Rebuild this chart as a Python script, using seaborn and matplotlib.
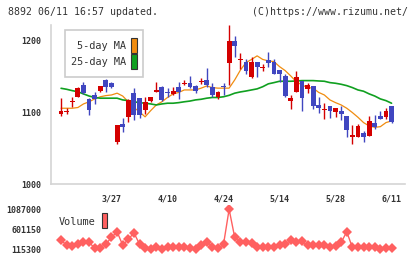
import numpy as np
import pandas as pd
import matplotlib
matplotlib.use("Agg")
import matplotlib.pyplot as plt
from matplotlib.patches import Rectangle
import seaborn as sns

# daily candles (60 trading days)
opens = [1098, 1100.5, 1114, 1122, 1138.5, 1119, 1125, 1130.5, 1145.5, 1141.7,
         1059.4, 1084, 1094, 1127, 1120, 1103.6, 1116, 1129, 1136, 1128,
         1126, 1135, 1139.5, 1141.7, 1137.5, 1142, 1145.5, 1136, 1122, 1136.5,
         1168.7, 1199.8, 1173.5, 1171, 1150, 1171, 1162, 1173, 1170, 1159.4,
         1151, 1116.6, 1129, 1144, 1132.4, 1137, 1110.5, 1104, 1109, 1101.3,
         1102, 1095, 1066.4, 1066.4, 1071, 1067.8, 1085, 1095.3, 1094.3, 1109]
closes = [1102, 1101.5, 1116.6, 1134.7, 1127, 1103, 1119, 1137, 1136, 1136,
          1082.7, 1080, 1117.6, 1096, 1096, 1115, 1121, 1131.5, 1117, 1127.5,
          1130.5, 1128, 1141.7, 1135, 1130.5, 1143.5, 1138.5, 1124.5, 1129, 1135.5,
          1199.8, 1193.3, 1174.5, 1158.5, 1171, 1164, 1163.5, 1169.6, 1154, 1153.8,
          1123, 1120.8, 1150, 1120.8, 1138.5, 1109, 1106, 1105, 1102.7, 1106,
          1098, 1075.7, 1068.7, 1081.3, 1065.4, 1088.3, 1080.3, 1090.6, 1102.2, 1087]
highs = [1120, 1106, 1121.8, 1136, 1142.7, 1120, 1128, 1137.5, 1147, 1143,
         1083, 1092, 1119, 1134, 1120, 1121, 1122, 1143, 1137, 1134,
         1135, 1143, 1145, 1151, 1138, 1148.7, 1161.8, 1141.7, 1130, 1141.7,
         1222, 1206, 1182.7, 1174, 1178, 1171, 1167.8, 1185, 1174, 1159.4,
         1153.8, 1124.5, 1158, 1144, 1141.7, 1137, 1121, 1113, 1109, 1106,
         1109, 1095, 1082.7, 1084, 1074.3, 1095, 1096.7, 1102.7, 1106, 1109.5]
lows = [1095.7, 1098, 1107.8, 1121.3, 1125.9, 1097, 1112, 1128, 1128, 1134,
        1056, 1073.4, 1087.3, 1089.7, 1092, 1098, 1114, 1129, 1116, 1121,
        1124.6, 1119, 1138, 1134, 1127, 1139.5, 1136, 1121, 1119, 1124.5,
        1138.5, 1178, 1160.3, 1153.8, 1147.8, 1150, 1158.5, 1164, 1153.8, 1143,
        1122, 1105, 1129, 1102.7, 1127.8, 1105, 1099, 1091.5, 1093, 1094,
        1089.7, 1066.4, 1056.2, 1065.4, 1059.4, 1067.8, 1076.6, 1090.6, 1090.6, 1086]

ma5 = [1106, 1106, 1106, 1107, 1112, 1115, 1119, 1122, 1123.6, 1124.5,
       1127, 1123, 1115, 1107, 1101, 1094, 1102.7, 1110.6, 1115, 1121,
       1126, 1128, 1131.5, 1131.5, 1131.5, 1134, 1137, 1134.8, 1134, 1134,
       1134, 1145.5, 1159, 1169.6, 1174, 1179, 1174, 1172, 1171, 1164,
       1158.5, 1151, 1143, 1138.5, 1134.8, 1134, 1128, 1124.5, 1117.6, 1113.8,
       1110.6, 1106, 1100, 1093.4, 1086, 1081.3, 1079.4, 1080.3, 1086, 1088.3]
ma25 = [1133.8, 1132.4, 1130.5, 1129, 1126, 1123, 1121, 1120, 1120, 1120,
        1120, 1117.6, 1116.6, 1115, 1113.8, 1113, 1112, 1110.6, 1112, 1113,
        1113, 1113.8, 1115, 1116, 1117.6, 1118.5, 1120, 1121, 1121, 1122,
        1124, 1127, 1128.7, 1130, 1131.5, 1133, 1136, 1140, 1141.7, 1143.6,
        1143.6, 1143.6, 1144, 1144.5, 1144.5, 1144.5, 1144, 1143.6, 1141.7, 1140.8,
        1139.4, 1137.5, 1134.8, 1131.5, 1129.7, 1126, 1123, 1119, 1116.6, 1113]

volume = [326000, 212000, 188000, 237000, 277000, 277000, 140000, 148000, 237000, 400000,
          536000, 212000, 350000, 512000, 237000, 131000, 115300, 172000, 115300, 156000,
          172000, 172000, 156000, 140000, 115300, 212000, 277000, 156000, 131000, 229000,
          1087000, 399000, 277000, 277000, 253000, 156000, 156000, 172000, 156000, 212000,
          229000, 334000, 277000, 302000, 212000, 212000, 212000, 212000, 172000, 196000,
          277000, 536000, 156000, 156000, 156000, 156000, 156000, 115300, 140000, 140000]

date_pos = [9, 19, 29, 39, 49, 59]
date_labels = ["3/27", "4/10", "4/24", "5/14", "5/28", "6/11"]
price_ticks = [1000, 1100, 1200]
vol_ticks = [115300, 601150, 1087000]

df = pd.DataFrame({"day": np.arange(len(opens)), "open": opens, "close": closes,
                   "high": highs, "low": lows, "ma5": ma5, "ma25": ma25, "volume": volume})

sns.set_theme(style="white")
mono = ["DejaVu Sans Mono", "DejaVu Sans"]
plt.rcParams["font.family"] = mono

RED = "#d40000"
BLUE = "#4046c0"
GRID = "#d4d4d4"
TXT = "#333333"

W, H = 420, 259
fig = plt.figure(figsize=(W / 100, H / 100), dpi=100)
left, right = 51 / W, 405 / W
ax = fig.add_axes([left, (H - 184.3) / H, right - left, (184.3 - 25) / H])
axv = fig.add_axes([left, (H - 253) / H, right - left, 48 / H])

# candles
up = df["close"] >= df["open"]
colors = np.where(up, RED, BLUE)
ax.vlines(df["day"], df["low"], df["high"], colors=colors, lw=1.0, zorder=3)
body_lo = np.minimum(df["open"], df["close"])
body_h = np.maximum(np.abs(df["close"] - df["open"]), 1.4)
ax.bar(df["day"], body_h, bottom=body_lo, width=0.86, color=colors, lw=0, zorder=4)

sns.lineplot(data=df, x="day", y="ma5", ax=ax, color="#f08c10", lw=0.9, zorder=2)
sns.lineplot(data=df, x="day", y="ma25", ax=ax, color="#10a020", lw=1.2, zorder=2)

ax.set_xlim(-1.8, 61.4)
ax.set_ylim(1000, 1222)
ax.set_xlabel("")
ax.set_ylabel("")
for s in ["top", "right"]:
    ax.spines[s].set_visible(False)
for s in ["left", "bottom"]:
    ax.spines[s].set_color(GRID)
    ax.spines[s].set_linewidth(1.2)
ax.set_yticks(price_ticks)
ax.set_yticklabels([str(t) for t in price_ticks], fontsize=6, color=TXT, fontweight="bold")
ax.tick_params(axis="y", length=5, width=1, color=GRID, pad=2)
ax.set_xticks(date_pos)
ax.set_xticklabels(date_labels, fontsize=6, color=TXT, fontweight="bold")
ax.tick_params(axis="x", which="major", length=0, pad=7)
ax.set_xticks(np.linspace(-1.8, 61.4, 12), minor=True)
ax.tick_params(axis="x", which="minor", direction="inout", length=7, width=1, color=GRID)

# legend box
lg = Rectangle((65 / W, 1 - 77 / H), 78 / W, 47 / H, transform=fig.transFigure,
               facecolor="white", edgecolor="#cccccc", lw=1.2, zorder=10)
fig.patches.append(lg)
fig.text(126 / W, 1 - 46 / H, "5-day MA", ha="right", va="center", fontsize=7.4, color=TXT, zorder=11)
fig.text(126 / W, 1 - 62 / H, "25-day MA", ha="right", va="center", fontsize=7.4, color=TXT, zorder=11)
for y0, c in [(38, "#f08c10"), (54, "#10a020")]:
    fig.patches.append(Rectangle((131 / W, 1 - (y0 + 15) / H), 6 / W, 15 / H, transform=fig.transFigure,
                                 facecolor=c, edgecolor="#333333", lw=0.8, zorder=11))

# volume
sns.lineplot(data=df, x="day", y="volume", ax=axv, color="#ff6060", lw=1.0,
             marker="D", markersize=4.8, markeredgewidth=0)
axv.set_xlim(-1.8, 61.4)
axv.set_ylim(18132, 1191456)
axv.set_xlabel("")
axv.set_ylabel("")
for s in axv.spines.values():
    s.set_visible(False)
axv.set_xticks([])
axv.set_yticks(vol_ticks)
axv.set_yticklabels([str(t) for t in vol_ticks], fontsize=6, color=TXT, fontweight="bold")
axv.tick_params(axis="y", length=0, pad=7)
fig.text(59 / W, 1 - 222 / H, "Volume", ha="left", va="center", fontsize=7.4, color=TXT)
fig.patches.append(Rectangle((102 / W, 1 - 228 / H), 5 / W, 15 / H, transform=fig.transFigure,
                             facecolor="#ff6060", edgecolor="#333333", lw=0.8))

fig.text(8 / W, 1 - 12 / H, "8892 06/11 16:57 updated.", ha="left", va="center", fontsize=7.1, color=TXT)
fig.text(408 / W, 1 - 12 / H, "(C)https://www.rizumu.net/", ha="right", va="center", fontsize=7.1, color=TXT)

fig.savefig("out.png", dpi=100, facecolor="white")
